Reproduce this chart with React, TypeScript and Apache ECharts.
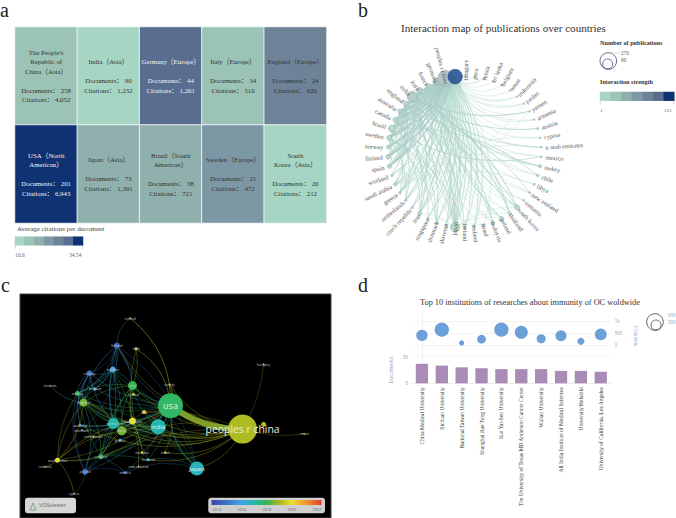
import React, { useEffect, useRef } from "react";
import * as echarts from "echarts";

const SERIF = "'Liberation Serif', 'Noto Sans CJK SC', serif";
const SANS = "'Open Sans', 'DejaVu Sans', sans-serif";

/* ---------- panel a ---------- */
const aColumns = ["c1", "c2", "c3", "c4", "c5"];
const aRows = ["r1", "r2"];
const aNames = [
  "The People's\nRepublic of\nChina（Asia）", "India（Asia）", "Germany（Europe）", "Italy（Europe）", "England（Europe）",
  "USA（North\nAmerican）", "Japan（Asia）", "Brazil（South\nAmerican）", "Sweden（Europe）", "South\nKorea（Asia）",
];
const aDocuments = [258, 90, 44, 34, 24, 201, 73, 38, 21, 20];
const aCitations = ["4,052", "1,232", "1,261", "510", "620", "6,943", "1,391", "721", "472", "212"];
const aAverage = [15.7, 13.69, 28.66, 15, 25.83, 34.54, 19.05, 18.97, 22.48, 10.6];
const aWhiteLabels = [2, 5];
const palette = ["#a6d5c3", "#9bc3b6", "#8fb0ac", "#7c98a4", "#6f8398", "#586d8f", "#0e3272"];
const aBins = [10.6, 14.02, 17.44, 20.86, 24.28, 27.7, 31.12, 34.54];
const aLegendValues = [12, 15, 19, 22, 26, 29, 33];

/* ---------- panel b ---------- */
const bNames = [
  "hungary", "peru", "russia", "sri lanka", "belgium", "oman", "indonesia", "jordan", "yemen", "armenia",
  "austria", "cyprus", "u arab emirates", "mexico", "turkey", "chile", "libya", "new zealand", "romania", "south korea",
  "thailand", "poland", "malaysia", "israel", "iceland", "ireland", "japan", "slovenia", "denmark", "singapore",
  "iran", "czech republic", "netherlands", "greece", "saudi arabia", "scotland", "spain", "finland", "norway", "sweden",
  "brazil", "canada", "australia", "england", "india", "italy", "france", "germany", "peoples r china", "usa",
];
const bSizes = [
  2, 1.5, 1.5, 1.5, 1.5, 1.5, 1.5, 1.5, 1.5, 1.5,
  2, 1.5, 1.5, 1.5, 3, 2.5, 2, 2, 2, 5,
  3, 4, 3.5, 3, 2, 2, 9, 2, 2, 2,
  4, 2, 2.5, 2.5, 3.5, 2, 4, 4.5, 3.5, 5,
  6.5, 4.5, 4.5, 4.5, 10, 6, 4, 6.5, 16, 14.5,
];
const bNodeColors: Record<string, string> = { usa: "#2f5d9c", "peoples r china": "#b4c8cb", germany: "#b4c9c7", india: "#b5cccb", italy: "#b5cfca", japan: "#b7dccd" };
const bAllRight = ["peru", "russia", "sri lanka", "belgium", "oman", "indonesia", "jordan", "yemen", "armenia", "austria", "cyprus", "u arab emirates", "mexico", "turkey", "chile", "libya", "new zealand", "romania", "south korea", "thailand", "poland", "malaysia", "israel"];
const bBottom = ["iceland", "ireland", "japan", "slovenia", "denmark", "singapore", "iran", "czech republic", "netherlands", "greece", "saudi arabia", "scotland"];
const bLeft = ["spain", "finland", "norway", "sweden", "brazil", "canada", "australia", "england", "india", "italy", "france", "germany"];
const bLinkGroups: [string, number, number, string, string[]][] = [
  ["usa", 0.7, 0.42, "#b5dccf", bAllRight],
  ["usa", 1, 0.22, "#a9d3c6", bBottom],
  ["usa", 1.8, 0.16, "#9cbfbc", bLeft],
  ["usa", 2.5, 0.2, "#a8c5c4", ["peoples r china"]],
  ["peoples r china", 0.7, 0.3, "#b5dccf", ["russia", "indonesia", "jordan", "armenia", "turkey", "chile", "new zealand", "romania", "south korea", "thailand", "poland", "malaysia", "israel"]],
  ["peoples r china", 1, 0.2, "#a9d3c6", bBottom],
  ["peoples r china", 1.5, 0.16, "#a3c6c1", bLeft],
  ["germany", 1.2, 0.18, "#a9cfc6", ["japan", "iran", "netherlands", "greece", "spain", "finland", "sweden", "brazil", "canada", "australia", "england", "india", "italy", "poland", "south korea"]],
  ["italy", 1.1, 0.18, "#a9cfc6", ["japan", "greece", "spain", "finland", "sweden", "brazil", "canada", "australia", "england", "india", "france", "thailand", "turkey"]],
  ["india", 1.2, 0.18, "#a9cfc6", ["japan", "saudi arabia", "iran", "brazil", "canada", "england", "australia", "malaysia", "south korea", "austria", "yemen", "u arab emirates"]],
  ["england", 1.1, 0.2, "#a9cfc6", ["japan", "sweden", "norway", "finland", "spain", "scotland", "canada", "australia", "brazil", "ireland", "denmark", "thailand"]],
  ["france", 1, 0.18, "#a9cfc6", ["japan", "spain", "finland", "sweden", "brazil", "canada", "australia", "slovenia", "czech republic"]],
  ["canada", 1, 0.2, "#a9cfc6", ["japan", "sweden", "australia", "brazil", "netherlands", "singapore", "denmark", "south korea"]],
  ["australia", 1, 0.2, "#a9cfc6", ["japan", "sweden", "brazil", "saudi arabia", "iran", "malaysia", "new zealand"]],
  ["brazil", 1, 0.2, "#a9cfc6", ["sweden", "finland", "japan", "greece", "iran", "mexico", "chile"]],
  ["sweden", 1, 0.2, "#a9cfc6", ["finland", "norway", "spain", "ireland", "denmark", "netherlands", "japan"]],
  ["japan", 0.6, 0.2, "#b5dccf", ["south korea", "thailand", "israel", "poland", "singapore", "iran", "spain", "finland"]],
  ["saudi arabia", 0.6, 0.2, "#b5dccf", ["u arab emirates", "yemen", "jordan", "libya", "turkey", "cyprus", "mexico", "spain"]],
];

/* ---------- panel c (map units of the VOSviewer layout) ---------- */
type CNode = [string, number, number, number, number];
const cNodes: CNode[] = [
  ["peoples r china", 727, 492, 29, 2019.1],
  ["usa", 511, 422, 25, 2017.8],
  ["india", 474, 485, 15, 2016.9],
  ["japan", 590, 610, 14, 2016.7],
  ["iceland", 390, 160, 1.5, 2020.5],
  ["finland", 350, 242, 6, 2014.4],
  ["chile", 408, 252, 3, 2019.5],
  ["sweden", 338, 314, 6, 2016],
  ["norway", 268, 325, 6, 2014.6],
  ["slovenia", 150, 362, 1.5, 2014.4],
  ["italy", 397, 362, 9, 2018],
  ["belgium", 285, 372, 3, 2016],
  ["canada", 232, 385, 5, 2017.8],
  ["england", 250, 413, 8, 2018.5],
  ["ireland", 400, 388, 3, 2019],
  ["turkey", 508, 358, 1.5, 2020.5],
  ["germany", 340, 475, 11, 2017],
  ["south korea", 397, 468, 7, 2020],
  ["france", 365, 497, 9, 2018.5],
  ["iran", 432, 441, 4, 2020.6],
  ["australia", 240, 480, 3, 2015.5],
  ["denmark", 245, 495, 2, 2015],
  ["netherlands", 280, 515, 2, 2020],
  ["greece", 360, 525, 3, 2016],
  ["scotland", 302, 575, 5, 2018],
  ["saudi arabia", 172, 585, 5, 2020],
  ["romania", 135, 605, 1.5, 2020.8],
  ["poland", 255, 620, 6, 2014.6],
  ["mexico", 375, 622, 3, 2014.8],
  ["new zealand", 415, 603, 1.5, 2020.5],
  ["thailand", 444, 584, 3, 2016.5],
  ["malaysia", 426, 562, 2.5, 2020],
  ["israel", 495, 562, 2.5, 2020.6],
  ["cyprus", 222, 685, 1.5, 2021],
  ["hungary", 790, 298, 1.5, 2020.5],
  ["", 790, 478, 5, 2019.2],
  ["oman", 912, 506, 1.5, 2020.5],
];
const cYearStops: [number, string][] = [[2013.6, "#3944a8"], [2016, "#3fa6e6"], [2017, "#22b8a8"], [2018, "#35b552"], [2019, "#a6b822"], [2020, "#e8e030"], [2021, "#f0a030"], [2022.4, "#e0402a"]];
const cLeftGroup = ["finland", "sweden", "norway", "italy", "belgium", "canada", "england", "ireland", "germany", "south korea", "france", "iran", "australia", "denmark", "greece", "scotland", "poland", "mexico", "thailand", "malaysia", "israel", "netherlands", "saudi arabia"];
const cLinkGroups: [string, number, number, string[]][] = [
  ["usa", 6, -0.17, ["peoples r china"]],
  ["usa", 0.6, 0.16, cLeftGroup],
  ["usa", 1, -0.25, ["japan", "india", "iceland", "chile", "turkey"]],
  ["peoples r china", 0.7, 0.24, ["india", "japan", "germany", "italy", "england", "france", "canada", "south korea", "iran", "australia", "finland", "israel", "thailand", "turkey"]],
  ["peoples r china", 0.5, -0.12, ["hungary", "oman", "", "india", "iran", "scotland"]],
  ["india", 0.6, 0.2, ["germany", "italy", "england", "france", "south korea", "canada", "japan", "scotland", "saudi arabia"]],
  ["japan", 0.5, -0.2, ["germany", "england", "italy", "mexico", "thailand", "south korea", "finland"]],
  ["germany", 0.7, 0.14, ["italy", "england", "canada", "sweden", "finland", "norway", "france", "scotland", "poland", "australia", "south korea"]],
  ["italy", 0.7, -0.15, ["england", "canada", "finland", "sweden", "france", "scotland", "chile", "south korea", "thailand"]],
  ["england", 0.7, 0.2, ["canada", "sweden", "norway", "finland", "scotland", "france", "saudi arabia", "poland", "slovenia", "belgium"]],
  ["finland", 0.6, 0.25, ["norway", "sweden", "canada", "belgium", "iceland", "denmark"]],
  ["norway", 0.6, -0.25, ["sweden", "canada", "belgium", "denmark", "australia", "poland"]],
  ["sweden", 0.7, 0.1, ["france", "germany", "belgium", "canada", "south korea"]],
  ["scotland", 0.6, 0.1, ["france", "poland", "saudi arabia", "germany", "south korea", "canada", "mexico", "thailand"]],
  ["saudi arabia", 0.6, 0.15, ["england", "france", "romania", "canada", "south korea", "cyprus"]],
  ["poland", 0.5, 0.2, ["cyprus", "mexico", "canada", "germany"]],
  ["south korea", 0.5, 0.1, ["new zealand", "malaysia", "france", "chile", "iran"]],
];
const cYearLabels = ["2014", "2016", "2018", "2020", "2022"];

/* ---------- panel d ---------- */
const dInstitutions = [
  "China Medical University", "Sichuan University", "National Taiwan University", "Shanghai Jiao Tong University",
  "Sun Yat-Sen University", "The University of Texas MD Anderson Cancer Center", "Wuhan University",
  "All India Institute of Medical Sciences", "University Helsinki", "University of California, Los Angeles",
];
const dDocuments = [22, 20, 18, 17, 16, 16, 16, 14, 14, 13];
const dCitations = [400, 640, 85, 240, 640, 530, 260, 385, 155, 440];

function yearColor(y: number) {
  for (let i = 1; i < cYearStops.length; i++) {
    const [y0, c0] = cYearStops[i - 1];
    const [y1, c1] = cYearStops[i];
    if (y <= y1) return echarts.color.lerp((y - y0) / (y1 - y0), [c0, c1]) as string;
  }
  return cYearStops[cYearStops.length - 1][1];
}

const hiddenAxis = { show: false };

function buildOption() {
  const n = bNames.length;
  const bNodes = bNames.map((name, i) => {
    const a = (i / n) * 2 * Math.PI;
    const ux = Math.sin(a), uy = -Math.cos(a);
    const size = bSizes[i];
    const onRight = ux >= -0.001;
    const gap = 3;
    const r = size / 2 + gap;
    const anchorX = onRight ? r : -r;
    const deg = (Math.atan2(-uy, ux) * 180) / Math.PI;
    return {
      name,
      value: [ux, -uy],
      symbolSize: size,
      itemStyle: { color: bNodeColors[name] || "#b8dccf", borderColor: name === "usa" ? "#1d4a8a" : "#8fa9a8", borderWidth: 0.6, opacity: name === "usa" ? 0.95 : 1 },
      label: {
        show: true,
        position: onRight ? "right" : "left",
        distance: gap,
        rotate: onRight ? deg : deg + 180,
        offset: [ux * r - anchorX, uy * r],
        color: "#555",
        fontSize: 6.2,
        fontFamily: SERIF,
      },
    };
  });
  const bIdx = (s: string) => bNames.indexOf(s);
  const bLinks: any[] = [];
  bLinkGroups.forEach(([hub, width, curve, color, targets]) => {
    targets.forEach((t) => {
      const s = bIdx(hub), e = bIdx(t);
      const clockwise = ((e - s + n) % n) < n / 2;
      bLinks.push({ source: s, target: e, lineStyle: { width, color, opacity: 0.6, curveness: clockwise ? -curve : curve } });
    });
  });

  const cNames = cNodes.map((d) => d[0]);
  const cData = cNodes.map(([name, x, y, size, year]) => ({
    name,
    value: [x, y],
    symbolSize: size,
    itemStyle: { color: yearColor(year) },
    label: {
      show: !!name,
      position: "inside",
      fontFamily: SANS,
      color: size >= 14 ? "#e4efe4" : "#c8c8c8",
      fontSize: name === "peoples r china" ? 10.4 : name === "usa" ? 9 : name === "india" || name === "japan" ? 6 : 3.4,
    },
  }));
  const cLinks: any[] = [];
  cLinkGroups.forEach(([hub, width, curve, targets]) => {
    targets.forEach((t) => {
      const year = cNodes[cNames.indexOf(t)][4];
      const color = width > 3 ? "#86a62a" : yearColor(hub === "peoples r china" ? 2019 : (year + cNodes[cNames.indexOf(hub)][4]) / 2);
      cLinks.push({ source: cNames.indexOf(hub), target: cNames.indexOf(t), lineStyle: { width, color, opacity: width > 3 ? 0.95 : 0.5, curveness: curve } });
    });
  });

  const txt = (x: number, y: number, text: string, fontSize: number, fill: string, extra: any = {}) => ({
    type: "text", x, y, silent: true,
    style: { text, fontSize, fill, fontFamily: SERIF, ...extra },
  });
  const tick = (x: number, y1: number, y2: number) => ({ type: "line", shape: { x1: x, y1, x2: x, y2 }, style: { stroke: "#bbb", lineWidth: 0.6 } });
  const ring = (cx: number, cy: number, r: number, stroke: string) => ({ type: "circle", shape: { cx, cy, r }, style: { fill: "none", stroke, lineWidth: 0.8 } });

  return {
    animation: false,
    backgroundColor: "#fff",
    grid: [
      { left: 15, top: 27, width: 311.5, height: 196 },
      { left: 15, top: 236.7, width: 68, height: 8.6 },
      { left: 388, top: 76, width: 153.5, height: 152 },
      { left: 600, top: 92, width: 74.3, height: 8.7 },
      { left: 20, top: 294, width: 311, height: 224, show: true, backgroundColor: "#000", borderColor: "#444", borderWidth: 1 },
      { left: 412, top: 311, width: 198.7, height: 72 },
      { left: 412, top: 321, width: 198.7, height: 24 },
      { left: 412, top: 356.7, width: 198.7, height: 26.6 },
    ],
    xAxis: [
      { gridIndex: 0, type: "category", data: aColumns, ...hiddenAxis },
      { gridIndex: 1, type: "category", data: palette, ...hiddenAxis },
      { gridIndex: 2, type: "value", min: -1, max: 1, ...hiddenAxis },
      { gridIndex: 3, type: "category", data: palette, ...hiddenAxis },
      { gridIndex: 4, type: "value", min: 60, max: 992, ...hiddenAxis },
      {
        gridIndex: 5, type: "category", data: dInstitutions,
        axisLine: { show: false }, axisTick: { show: false }, axisLabel: { show: false },
        splitLine: { show: true, alignWithLabel: true, lineStyle: { color: "#e9e6ee", width: 0.7 } },
      },
      { gridIndex: 6, type: "category", data: dInstitutions, ...hiddenAxis },
      {
        gridIndex: 7, type: "category", data: dInstitutions,
        axisLine: { show: true, lineStyle: { color: "#e6e6e6", width: 0.6 } }, axisTick: { show: false },
        axisLabel: { interval: 0, rotate: 90, fontSize: 5.5, color: "#333", fontFamily: SERIF, margin: 4 },
      },
    ],
    yAxis: [
      { gridIndex: 0, type: "category", data: aRows, inverse: true, ...hiddenAxis },
      { gridIndex: 1, type: "category", data: ["v"], ...hiddenAxis },
      { gridIndex: 2, type: "value", min: -1, max: 1, ...hiddenAxis },
      { gridIndex: 3, type: "category", data: ["v"], ...hiddenAxis },
      { gridIndex: 4, type: "value", min: 88, max: 758, inverse: true, ...hiddenAxis },
      { gridIndex: 5, type: "value", min: 0, max: 1, ...hiddenAxis },
      {
        gridIndex: 6, type: "value", position: "right", min: 0, max: 1000, interval: 500,
        axisLine: { show: false }, axisTick: { show: false },
        axisLabel: { fontSize: 4.4, color: "#9a9a9a", margin: 4, formatter: (v: number) => (v === 1000 ? "1k" : String(v)), fontFamily: SANS },
        splitLine: { show: true, lineStyle: { color: "#f0ece4", width: 0.6 } },
      },
      {
        gridIndex: 7, type: "value", min: 0, max: 30, interval: 30,
        axisLine: { show: false }, axisTick: { show: false },
        axisLabel: { fontSize: 4.4, color: "#9a9a9a", margin: 4, fontFamily: SANS },
        splitLine: { show: true, lineStyle: { color: "#efefef", width: 0.6 } },
      },
    ],
    visualMap: [{
      show: false, type: "piecewise", seriesIndex: [0, 1, 3], dimension: 2,
      pieces: palette.map((color, i) => ({ gte: aBins[i], lte: aBins[i + 1], color })),
    }],
    series: [
      {
        type: "heatmap", xAxisIndex: 0, yAxisIndex: 0,
        data: aAverage.map((v, i) => ({
          value: [i % 5, Math.floor(i / 5), v],
          label: { color: aWhiteLabels.includes(i) ? "#f2f2f2" : "#333" },
        })),
        itemStyle: { borderColor: "#fff", borderWidth: 0.8 },
        label: {
          show: true, fontFamily: SERIF, fontSize: 6.8, lineHeight: 9.5, align: "center",
          formatter: (p: any) => `${aNames[p.dataIndex]}\n\nDocuments： ${aDocuments[p.dataIndex]}\nCitations： ${aCitations[p.dataIndex]}`,
        },
        emphasis: { disabled: true },
      },
      {
        type: "heatmap", xAxisIndex: 1, yAxisIndex: 1,
        data: aLegendValues.map((v, i) => [i, 0, v]),
        emphasis: { disabled: true },
      },
      {
        type: "graph", coordinateSystem: "cartesian2d", xAxisIndex: 2, yAxisIndex: 2, layout: "none",
        data: bNodes, links: bLinks, z: 2, emphasis: { disabled: true },
      },
      {
        type: "heatmap", xAxisIndex: 3, yAxisIndex: 3,
        data: aLegendValues.map((v, i) => [i, 0, v]),
        emphasis: { disabled: true },
      },
      {
        type: "graph", coordinateSystem: "cartesian2d", xAxisIndex: 4, yAxisIndex: 4, layout: "none",
        data: cData, links: cLinks, z: 3, emphasis: { disabled: true },
      },
      {
        type: "scatter", xAxisIndex: 6, yAxisIndex: 6,
        data: dCitations,
        symbolSize: (v: number) => 0.565 * Math.sqrt(v),
        itemStyle: { color: "#6ba0d9", opacity: 1 },
      },
      {
        type: "bar", xAxisIndex: 7, yAxisIndex: 7, data: dDocuments, barWidth: 12.3,
        itemStyle: { color: "#a98bb5" },
      },
    ],
    graphic: [
      txt(0, 0, "a", 20, "#222"),
      txt(358, 0, "b", 20, "#222"),
      txt(1, 275, "c", 20, "#222"),
      txt(358, 275, "d", 20, "#222"),

      txt(17, 225, "Average citations per ducoment", 6.9, "#444"),
      tick(15.3, 245, 249), tick(82.7, 245, 249),
      txt(15, 252.5, "10.6", 5.6, "#666"),
      txt(69, 252.5, "34.54", 5.6, "#666"),

      txt(401, 22, "Interaction map of publications over countries", 11.1, "#333"),
      txt(600, 39, "Number of publications", 6.2, "#333", { fontWeight: "bold" }),
      ring(608.3, 61, 8.3, "#3a4b72"),
      ring(607.7, 64, 5, "#3a4b72"),
      { type: "line", shape: { x1: 610, y1: 53, x2: 620, y2: 53 }, style: { stroke: "#bbb", lineWidth: 0.5 } },
      txt(621, 50.5, "270", 5.2, "#555"),
      txt(621, 57.5, "90", 5.2, "#555"),
      txt(600, 78, "Interaction strength", 6.2, "#333", { fontWeight: "bold" }),
      tick(600.3, 100.7, 105), tick(673.8, 100.7, 105),
      txt(600, 108, "1", 5, "#555"),
      txt(664, 108, "125", 5, "#555"),

      { type: "rect", shape: { x: 25, y: 497.7, width: 51, height: 15.6, r: 3 }, style: { fill: "#d6d6d6" }, z: 10 },
      { type: "polygon", shape: { points: [[30, 510], [33, 503], [36, 510]] }, style: { fill: "none", stroke: "#6a9a6a", lineWidth: 0.8 }, z: 11 },
      { ...txt(39, 502, "VOSviewer", 5.4, "#666", { fontFamily: SANS }), z: 11 },
      { type: "rect", shape: { x: 208.3, y: 497.7, width: 116.7, height: 15.6, r: 3 }, style: { fill: "#cfcfcf" }, z: 10 },
      {
        type: "rect", shape: { x: 211.5, y: 500, width: 110, height: 5 }, z: 11,
        style: {
          fill: new echarts.graphic.LinearGradient(0, 0, 1, 0, cYearStops.map(([y, color]) => ({
            offset: (y - cYearStops[0][0]) / (cYearStops[cYearStops.length - 1][0] - cYearStops[0][0]), color,
          }))),
        },
      },
      ...cYearLabels.map((t) => ({
        ...txt(211.5 + ((Number(t) - 2013.6) / 8.8) * 110 - 4, 507.6, t, 3.8, "#666", { fontFamily: SANS }), z: 11,
      })),

      txt(420, 298, "Top 10 institutions of researches about immunity of OC woldwide", 8.3, "#333"),
      { type: "text", x: 636, y: 336, rotation: -Math.PI / 2, silent: true, style: { text: "Citations", fontSize: 5, fill: "#7aa5d8", fontFamily: SANS, align: "center", verticalAlign: "middle" } },
      { type: "text", x: 390.7, y: 370, rotation: Math.PI / 2, silent: true, style: { text: "Documents", fontSize: 5, fill: "#a98bb5", fontFamily: SANS, align: "center", verticalAlign: "middle" } },
      ring(655, 322, 8.3, "#444"),
      ring(656, 325, 5, "#444"),
      txt(668, 312.5, "600", 4.4, "#7aa5d8", { fontFamily: SANS }),
      txt(668, 320, "300", 4.4, "#7aa5d8", { fontFamily: SANS }),
    ],
  };
}

export default function App() {
  const ref = useRef<HTMLDivElement>(null);
  useEffect(() => {
    const chart = echarts.init(ref.current!, undefined, { renderer: "svg" });
    chart.setOption(buildOption() as any);
    return () => chart.dispose();
  }, []);
  return <div ref={ref} style={{ position: "absolute", left: 0, top: 0, width: 676, height: 518 }} />;
}
